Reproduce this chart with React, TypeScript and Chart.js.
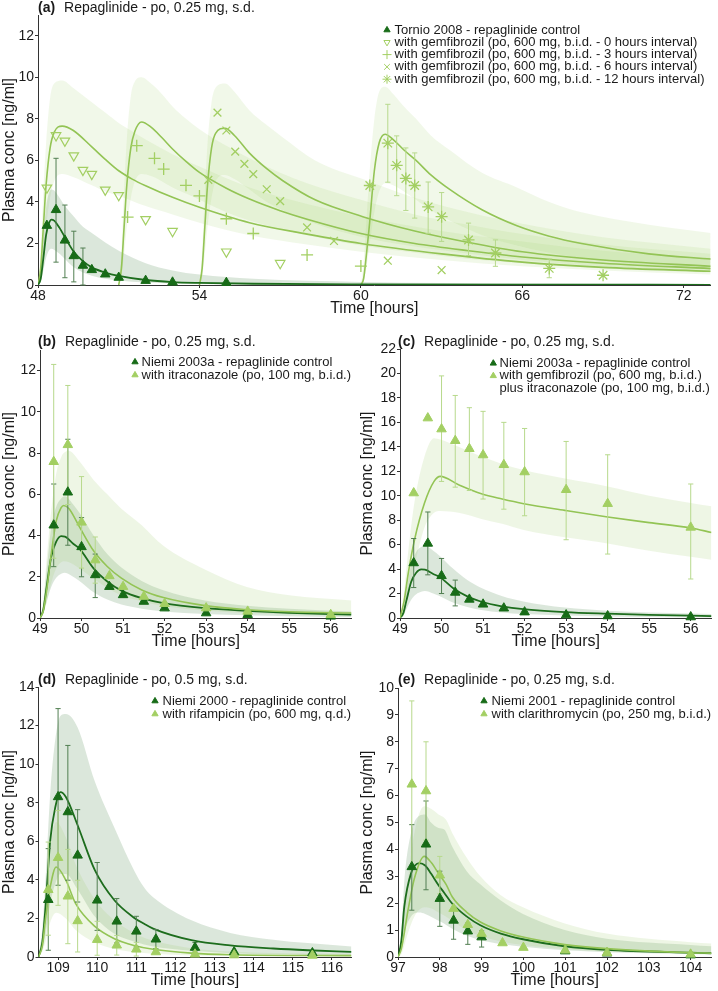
import React, { useEffect, useRef } from "react";
import { Chart, registerables } from "chart.js";
import { drawPoint } from "chart.js/helpers";

Chart.register(...registerables);

const FONT = "'Liberation Sans', Arial, sans-serif";
const INK = "#1a1a1a";
const AXIS = "#333333";
const DARK = "#176b17";
const DARK_LINE = "#1d6d1d";
const DARK_ERR = "#527f52";
const LIGHT = "#a3cf63";
const LIGHT_LINE = "#93c455";
const LIGHT_ERR = "#b7d98c";
const BAND_DARK = "rgba(110,160,110,0.25)";
const BAND_LIGHT = "rgba(160,205,110,0.18)";
const BAND_LIGHT_A = "rgba(160,205,110,0.15)";

type Sim = [number, number, number, number][]; // t, lower, median, upper
type Err = [number, number, number][]; // t, lower, upper

// ---------------- Panel (a) ----------------
const aTicksX = [48, 54, 60, 66, 72];
const aTicksY = [0, 2, 4, 6, 8, 10, 12];
const aCtrlT = [48.33, 48.67, 49, 49.33, 49.67, 50, 50.5, 51, 52, 53, 55];
const aCtrlV = [2.86, 3.62, 2.15, 1.4, 0.94, 0.73, 0.52, 0.36, 0.21, 0.13, 0.11];
const aCtrlErr: Err = [[48.67, 1.1, 6.1], [49, 0.35, 3.85], [49.33, 0.15, 2.59], [49.67, 0.0, 1.78]];
const a0hT = [48.33, 48.67, 49, 49.33, 49.67, 50, 50.5, 51, 52, 53, 55, 57];
const a0hV = [4.68, 7.2, 6.94, 6.23, 5.53, 5.34, 4.58, 4.32, 3.16, 2.59, 1.6, 1.05];
const a3hT = [51.33, 51.67, 52.33, 52.67, 53.5, 54, 55, 56, 58, 60];
const a3hV = [3.27, 6.71, 6.1, 5.58, 4.8, 4.29, 3.19, 2.48, 1.45, 0.91];
const a6hT = [54.33, 54.67, 55, 55.33, 55.67, 56, 56.5, 57, 58, 59, 61, 63];
const a6hV = [5.06, 8.3, 7.44, 6.42, 5.83, 5.34, 4.61, 4.04, 2.77, 2.12, 1.17, 0.72];
const a12hT = [60.33, 61, 61.33, 61.67, 62, 62.5, 63, 64, 65, 67, 69];
const a12hV = [4.79, 6.83, 5.76, 5.13, 4.79, 3.76, 3.29, 2.17, 1.54, 0.8, 0.47];
const a12hErr: Err = [[61, 4.95, 8.7], [61.33, 4.3, 7.18], [61.67, 3.59, 6.6], [62, 3.22, 6.36], [62.5, 2.49, 4.96], [63, 2.1, 4.45], [64, 1.42, 2.98], [65, 0.9, 2.17], [67, 0.35, 1.25]];
const aCtrlSim: Sim = [
  [48.0, 0, 0, 0], [48.1, 0.15, 0.3, 0.8], [48.2, 0.7, 1.3, 2.4], [48.3, 1.3, 2.4, 3.7],
  [48.4, 1.65, 2.95, 4.4], [48.5, 1.75, 3.15, 4.6], [48.6, 1.7, 3.1, 4.55], [48.8, 1.5, 2.75, 4.2],
  [49.0, 1.25, 2.3, 3.8], [49.33, 0.85, 1.6, 3.3], [49.67, 0.6, 1.15, 2.8], [50.0, 0.45, 0.85, 2.5],
  [50.5, 0.3, 0.6, 2.05], [51.0, 0.22, 0.44, 1.65], [52.0, 0.12, 0.24, 1.05], [53.0, 0.07, 0.14, 0.7],
  [54.0, 0.05, 0.1, 0.5], [56.0, 0.03, 0.06, 0.3], [60.0, 0.015, 0.03, 0.15], [66.0, 0.008, 0.015, 0.07],
  [73.0, 0.005, 0.01, 0.04],
];
const a0hSim: Sim = [
  [48.0, 0, 0, 0], [48.1, 0.4, 0.8, 1.6], [48.2, 1.5, 2.8, 4.5], [48.3, 2.8, 4.8, 6.8],
  [48.45, 4.2, 6.6, 9.0], [48.6, 5.0, 7.35, 9.7], [48.9, 5.35, 7.65, 9.85], [49.3, 5.2, 7.45, 9.5],
  [50.0, 4.8, 6.65, 8.8], [50.5, 4.5, 6.05, 8.3], [51.0, 4.3, 5.5, 7.8], [51.5, 4.05, 5.1, 7.4],
  [52.0, 3.8, 4.78, 7.0], [53.0, 3.4, 4.22, 6.3], [54.0, 3.0, 3.74, 5.7], [55.86, 2.4, 3.0, 4.7],
  [58.0, 1.95, 2.45, 3.9], [60.0, 1.6, 2.0, 3.3], [63.0, 1.2, 1.5, 2.6], [66.0, 0.9, 1.1, 2.1],
  [69.0, 0.7, 0.85, 1.65], [73.0, 0.5, 0.66, 1.3],
];
const a3hSim: Sim = [
  [51.0, 0, 0, 0], [51.1, 0.4, 0.8, 1.6], [51.2, 1.5, 2.8, 4.6], [51.3, 2.8, 4.8, 7.0],
  [51.45, 4.2, 6.6, 9.1], [51.6, 5.0, 7.4, 9.8], [51.85, 5.35, 7.85, 10.0], [52.2, 5.25, 7.6, 9.7],
  [52.6, 5.0, 7.1, 9.2], [53.0, 4.7, 6.55, 8.6], [53.5, 4.4, 5.95, 8.0], [54.0, 4.1, 5.42, 7.5],
  [55.0, 3.5, 4.66, 6.7], [55.86, 3.1, 4.14, 6.1], [57.0, 2.7, 3.58, 5.4], [58.0, 2.4, 3.17, 4.9],
  [60.0, 1.9, 2.48, 4.1], [62.0, 1.55, 2.0, 3.4], [64.0, 1.25, 1.65, 2.9], [66.0, 1.05, 1.35, 2.45],
  [69.0, 0.8, 1.05, 1.95], [73.0, 0.6, 0.79, 1.5],
];
const a6hSim: Sim = [
  [54.0, 0, 0, 0], [54.1, 0.4, 0.8, 1.6], [54.2, 1.5, 2.8, 4.5], [54.3, 2.8, 4.8, 6.8],
  [54.45, 4.2, 6.6, 8.8], [54.6, 5.0, 7.3, 9.5], [54.95, 5.3, 7.55, 9.7], [55.3, 5.1, 7.2, 9.3],
  [55.86, 4.6, 6.35, 8.4], [56.5, 4.0, 5.6, 7.7], [57.1, 3.6, 5.02, 7.1], [58.3, 2.95, 4.1, 6.0],
  [60.07, 2.3, 3.29, 5.1], [62.0, 1.85, 2.6, 4.2], [64.0, 1.5, 2.05, 3.5], [66.0, 1.2, 1.6, 2.95],
  [69.0, 0.9, 1.2, 2.3], [73.0, 0.65, 0.9, 1.75],
];
const a12hSim: Sim = [
  [60.0, 0, 0, 0], [60.1, 0.2, 0.3, 1.0], [60.2, 0.8, 1.4, 3.0], [60.31, 1.8, 2.8, 5.2],
  [60.5, 3.5, 5.5, 8.0], [60.68, 4.5, 6.85, 9.3], [60.9, 4.9, 7.26, 9.55], [61.2, 4.8, 7.0, 9.2],
  [61.6, 4.5, 6.5, 8.6], [62.05, 4.1, 6.0, 8.0], [62.6, 3.6, 5.3, 7.2], [63.3, 3.1, 4.6, 6.5],
  [64.5, 2.4, 3.62, 5.4], [65.8, 1.9, 2.85, 4.7], [67.0, 1.55, 2.35, 4.0], [68.2, 1.3, 2.0, 3.5],
  [70.7, 0.95, 1.5, 2.9], [73.0, 0.8, 1.25, 2.5],
];

// ---------------- Panel (b) & (c) ----------------
const bcTicksX = [49, 50, 51, 52, 53, 54, 55, 56];
const bTicksY = [0, 2, 4, 6, 8, 10, 12];
const cTicksY = [0, 2, 4, 6, 8, 10, 12, 14, 16, 18, 20, 22];
const bCtrlT = [49.33, 49.67, 50, 50.33, 50.67, 51, 51.5, 52, 53, 54, 56];
const bCtrlV = [4.5, 6.1, 3.45, 2.09, 1.52, 1.12, 0.8, 0.48, 0.24, 0.16, 0.08];
const bCtrlErr: Err = [[49.33, 2.49, 6.5], [49.67, 3.53, 8.67], [50, 2.0, 4.87], [50.33, 0.99, 3.1]];
const bItraT = [49.33, 49.67, 50, 50.33, 50.67, 51, 51.5, 52, 53, 54, 56];
const bItraV = [7.58, 8.4, 4.64, 2.81, 2.04, 1.52, 1.04, 0.69, 0.48, 0.32, 0.16];
const bItraErr: Err = [[49.33, 2.9, 12.3], [49.67, 5.5, 11.28], [50, 2.42, 6.86], [50.33, 1.69, 3.93]];
const bCtrlSim: Sim = [
  [49.0, 0, 0, 0], [49.08, 0.2, 0.4, 0.7], [49.15, 0.7, 1.36, 2.1], [49.27, 1.5, 2.97, 4.4],
  [49.39, 1.95, 3.7, 5.4], [49.51, 2.15, 3.97, 5.8], [49.6, 2.2, 3.95, 5.9], [49.8, 2.0, 3.6, 5.5],
  [49.95, 1.8, 3.37, 5.1], [50.29, 1.25, 2.41, 4.0], [50.62, 0.9, 1.77, 3.1], [50.96, 0.65, 1.33, 2.45],
  [51.45, 0.45, 0.96, 1.8], [51.97, 0.32, 0.72, 1.35], [52.97, 0.2, 0.48, 0.85], [53.98, 0.13, 0.35, 0.6],
  [55.0, 0.09, 0.25, 0.45], [56.5, 0.05, 0.16, 0.32],
];
const bItraSim: Sim = [
  [49.0, 0, 0, 0], [49.08, 0.25, 0.35, 0.8], [49.15, 0.7, 1.2, 2.6], [49.27, 1.7, 3.1, 5.2],
  [49.39, 2.4, 4.7, 7.0], [49.51, 2.7, 5.35, 7.8], [49.57, 2.75, 5.46, 8.0], [49.7, 2.7, 5.3, 8.1],
  [49.95, 2.4, 4.42, 7.6], [50.29, 1.9, 3.26, 6.7], [50.62, 1.45, 2.5, 6.0], [50.96, 1.1, 1.93, 5.3],
  [51.45, 0.8, 1.36, 4.5], [51.97, 0.58, 0.99, 3.5], [52.97, 0.36, 0.6, 2.35], [53.98, 0.24, 0.4, 1.5],
  [55.0, 0.17, 0.3, 1.1], [56.5, 0.12, 0.24, 0.85],
];
const cCombT = [49.33, 49.67, 50, 50.33, 50.67, 51, 51.5, 52, 53, 54, 56];
const cCombV = [10.22, 16.35, 15.45, 14.5, 13.84, 13.33, 12.53, 11.94, 10.49, 9.35, 7.41];
const cCombErr: Err = [[50, 11.17, 19.8], [50.33, 10.7, 18.2], [50.67, 10.43, 17.2], [51, 9.73, 16.9], [51.5, 8.9, 16.0], [52, 8.36, 15.5], [53, 6.4, 14.44], [54, 5.23, 13.35], [56, 3.19, 10.96]];
const cCombSim: Sim = [
  [49.0, 0, 0, 0], [49.1, 0.6, 1.4, 2.2], [49.2, 2.0, 3.68, 5.5], [49.35, 4.3, 6.4, 9.5],
  [49.59, 7.4, 9.4, 13.2], [49.82, 8.6, 11.17, 14.7], [49.97, 8.75, 11.58, 14.6], [50.41, 8.6, 10.9, 14.0],
  [50.96, 8.1, 10.16, 13.2], [51.46, 7.7, 9.73, 12.6], [51.98, 7.2, 9.35, 12.1], [52.97, 6.6, 8.8, 11.4],
  [54.0, 6.1, 8.26, 10.76], [55.0, 5.5, 7.8, 10.0], [56.0, 5.0, 7.36, 9.4], [56.5, 4.77, 7.0, 9.13],
];

// ---------------- Panel (d) ----------------
const dTicksX = [109, 110, 111, 112, 113, 114, 115, 116];
const dTicksY = [0, 2, 4, 6, 8, 10, 12, 14];
const dCtrlT = [108.75, 109, 109.25, 109.5, 110, 110.5, 111, 111.5, 112.5, 113.5, 115.5];
const dCtrlV = [2.97, 8.3, 7.52, 5.27, 2.94, 1.85, 1.33, 0.92, 0.49, 0.26, 0.21];
const dCtrlErr: Err = [[108.75, 0.35, 5.62], [109, 3.72, 12.88], [109.25, 3.98, 10.97], [109.5, 2.85, 7.64], [110, 1.38, 4.9], [110.5, 0.73, 3.03], [111, 0.52, 2.11], [111.5, 0.43, 1.42], [112.5, 0.26, 0.75]];
const dRifT = [108.75, 109, 109.25, 109.5, 110, 110.5, 111, 111.5, 112.5, 113.5, 115.5];
const dRifV = [3.49, 5.15, 3.15, 1.87, 0.9, 0.61, 0.4, 0.26, 0.14, 0.1, 0.08];
const dRifErr: Err = [[108.75, 1.13, 5.96], [109, 2.68, 7.6], [109.25, 0.69, 5.58], [109.5, 0.26, 3.98], [110, 0.09, 1.85], [110.5, 0.1, 1.12], [111, 0.05, 0.76]];
const dCtrlSim: Sim = [
  [108.5, 0, 0, 0], [108.6, 0.4, 0.8, 1.5], [108.68, 1.2, 2.6, 4.0], [108.8, 2.8, 6.05, 8.5],
  [108.93, 3.8, 7.78, 11.3], [109.06, 4.3, 8.55, 12.5], [109.2, 4.3, 8.3, 12.6], [109.5, 3.5, 6.83, 11.9],
  [109.94, 2.1, 4.5, 9.1], [110.44, 1.2, 2.94, 6.7], [110.94, 0.8, 2.04, 4.5], [111.2, 0.65, 1.72, 3.6],
  [111.43, 0.55, 1.47, 3.1], [112.41, 0.32, 0.87, 1.9], [113.4, 0.2, 0.6, 1.25], [114.5, 0.14, 0.44, 0.9],
  [115.38, 0.11, 0.35, 0.72], [116.5, 0.08, 0.27, 0.55],
];
const dRifSim: Sim = [
  [108.5, 0, 0, 0], [108.6, 0.3, 0.6, 1.0], [108.68, 0.8, 2.0, 3.3], [108.8, 1.8, 3.63, 5.6],
  [108.95, 2.3, 4.67, 7.0], [109.2, 2.0, 3.98, 6.2], [109.45, 1.4, 2.77, 4.8], [109.94, 0.75, 1.59, 3.0],
  [110.44, 0.42, 0.95, 1.9], [110.94, 0.26, 0.6, 1.25], [111.43, 0.17, 0.4, 0.85], [112.41, 0.08, 0.2, 0.45],
  [113.4, 0.05, 0.12, 0.28], [116.5, 0.02, 0.07, 0.15],
];

// ---------------- Panel (e) ----------------
const eTicksX = [97, 98, 99, 100, 101, 102, 103, 104];
const eTicksY = [0, 1, 2, 3, 4, 5, 6, 7, 8, 9, 10];
const eCtrlT = [97.33, 97.67, 98, 98.33, 98.67, 99, 101, 102, 104];
const eCtrlV = [3.35, 4.19, 2.17, 1.36, 0.96, 0.74, 0.22, 0.14, 0.07];
const eCtrlErr: Err = [[97.33, 1.74, 4.92], [97.67, 2.5, 5.8], [98, 1.14, 3.19], [98.33, 0.66, 1.8], [98.67, 0.47, 1.26], [99, 0.37, 0.97]];
const eClarT = [97.33, 97.67, 98, 98.33, 98.67, 99, 99.5, 100, 101, 102, 104];
const eClarV = [6.42, 6.17, 3.04, 1.8, 1.2, 0.87, 0.52, 0.35, 0.25, 0.16, 0.1];
const eClarErr: Err = [[97.33, 3.3, 9.52], [97.67, 4.35, 8.0], [98, 2.35, 3.74]];
const eCtrlSim: Sim = [
  [97.0, 0, 0, 0], [97.08, 0.3, 0.6, 0.9], [97.15, 0.9, 1.86, 2.8], [97.31, 1.5, 3.1, 4.6],
  [97.51, 1.65, 3.49, 5.25], [97.65, 1.6, 3.4, 5.3], [97.79, 1.5, 3.1, 5.0], [97.97, 1.35, 2.67, 4.8],
  [98.1, 1.25, 2.4, 4.75], [98.3, 1.05, 1.98, 4.1], [98.64, 0.8, 1.51, 3.2], [98.97, 0.63, 1.18, 2.7],
  [99.46, 0.48, 0.87, 2.1], [99.99, 0.38, 0.66, 1.6], [100.99, 0.25, 0.4, 1.0], [101.99, 0.18, 0.27, 0.68],
  [104.0, 0.11, 0.16, 0.45], [104.5, 0.1, 0.14, 0.4],
];
const eClarSim: Sim = [
  [97.0, 0, 0, 0], [97.08, 0.1, 0.3, 0.6], [97.24, 0.9, 1.74, 2.9], [97.39, 1.5, 2.91, 4.6],
  [97.63, 1.85, 3.74, 5.6], [97.8, 1.8, 3.5, 5.5], [97.97, 1.65, 3.1, 5.3], [98.15, 1.5, 2.7, 5.1],
  [98.3, 1.35, 2.23, 4.6], [98.64, 1.0, 1.67, 3.7], [98.97, 0.78, 1.3, 3.0], [99.46, 0.58, 0.97, 2.3],
  [99.99, 0.45, 0.74, 1.85], [100.99, 0.3, 0.46, 1.25], [101.99, 0.2, 0.31, 0.87], [104.0, 0.12, 0.16, 0.55],
  [104.5, 0.1, 0.14, 0.5],
];

// ---------------- Text ----------------
const titleQuarter = "Repaglinide - po, 0.25 mg, s.d.";
const titleHalf = "Repaglinide - po, 0.5 mg, s.d.";
const xTitle = "Time [hours]";
const yTitle = "Plasma conc [ng/ml]";
const gem = "with gemfibrozil (po, 600 mg, b.i.d. - ";
const aLegend = [
  "Tornio 2008 - repaglinide control",
  gem + "0 hours interval)",
  gem + "3 hours interval)",
  gem + "6 hours interval)",
  gem + "12 hours interval)",
];
const bLegend = ["Niemi 2003a - repaglinide control", "with itraconazole (po, 100 mg, b.i.d.)"];
const cLegend = ["Niemi 2003a - repaglinide control", "with gemfibrozil (po, 600 mg, b.i.d.)", "plus itraconazole (po, 100 mg, b.i.d.)"];
const dLegend = ["Niemi 2000 - repaglinide control", "with rifampicin (po, 600 mg, q.d.)"];
const eLegend = ["Niemi 2001 - repaglinide control", "with clarithromycin (po, 250 mg, b.i.d.)"];

// ---------------- dataset builders ----------------
function simSets(sim: Sim, lineColor: string, bandColor: string, lw = 1.6): any[] {
  return [
    {
      data: sim.map((r) => ({ x: r[0], y: r[3] })),
      borderColor: "rgba(0,0,0,0)", borderWidth: 0, pointRadius: 0,
      fill: "+1", backgroundColor: bandColor, order: 4, cubicInterpolationMode: "monotone",
    },
    {
      data: sim.map((r) => ({ x: r[0], y: r[1] })),
      borderColor: "rgba(0,0,0,0)", borderWidth: 0, pointRadius: 0,
      fill: false, order: 4, cubicInterpolationMode: "monotone",
    },
    {
      data: sim.map((r) => ({ x: r[0], y: r[2] })),
      borderColor: lineColor, borderWidth: lw, pointRadius: 0,
      fill: false, order: 3, cubicInterpolationMode: "monotone",
    },
  ];
}

function errSet(err: Err, color: string): any {
  const data: any[] = [];
  err.forEach(([t, lo, hi]) => {
    data.push({ x: t, y: lo }, { x: t, y: hi }, { x: t, y: null });
  });
  return {
    data, borderColor: color, borderWidth: 1, pointStyle: "line", pointRadius: 2.6,
    pointBorderColor: color, pointBorderWidth: 1, pointBackgroundColor: color,
    fill: false, spanGaps: false, order: 2, clip: false, tension: 0,
  };
}

function obsSet(t: number[], v: number[], color: string, style: string, o: any = {}): any {
  return {
    data: t.map((x, i) => ({ x, y: v[i] })),
    showLine: false,
    pointStyle: style,
    pointRotation: o.rot || 0,
    pointRadius: o.r || 5,
    pointBorderWidth: o.bw || 1,
    pointBorderColor: color,
    pointBackgroundColor: o.open ? "rgba(0,0,0,0)" : color,
    borderColor: color,
    backgroundColor: color,
    order: o.order ?? 1,
    clip: false,
  };
}

// ---------------- decoration plugin (panel title + inset legend) ----------------
const decorPlugin: any = {
  id: "decor",
  afterDraw(chart: any, _args: any, opts: any) {
    const ctx = chart.ctx;
    const ox = opts.ox, oy = opts.oy;
    ctx.save();
    ctx.textBaseline = "middle";
    ctx.textAlign = "left";
    ctx.fillStyle = INK;
    ctx.font = `bold 14px ${FONT}`;
    ctx.fillText(opts.tag, opts.tx - ox, opts.ty - oy);
    const w = ctx.measureText(opts.tag).width;
    ctx.font = `14px ${FONT}`;
    ctx.fillText(opts.title, opts.tx - ox + w + 9, opts.ty - oy);
    const lg = opts.legend;
    lg.items.forEach((it: any, i: number) => {
      const y = lg.y + i * lg.rowH - oy;
      if (it.style) {
        ctx.strokeStyle = it.color;
        ctx.fillStyle = it.open ? "rgba(0,0,0,0)" : it.color;
        ctx.lineWidth = 1;
        drawPoint(ctx, { pointStyle: it.style, rotation: it.rot || 0, radius: it.r || 3.6, borderWidth: 1 }, lg.mx - ox, y);
      }
      ctx.fillStyle = INK;
      ctx.font = `13px ${FONT}`;
      ctx.fillText(it.label, lg.tx - ox, y);
    });
    ctx.restore();
  },
};

// ---------------- panels ----------------
const panels: any[] = [
  {
    key: "a",
    canvas: { left: 0, top: 0, w: 718, h: 319 },
    area: { l: 38, t: 15, r: 715, b: 285 },
    x: [48, 73], y: [0, 13], xTicks: aTicksX, yTicks: aTicksY,
    tag: "(a)", title: titleQuarter, tx: 38, ty: 8,
    legend: {
      mx: 387, tx: 394.5, y: 30, rowH: 12.3,
      items: [
        { label: aLegend[0], style: "triangle", color: DARK },
        { label: aLegend[1], style: "triangle", rot: 180, open: true, color: LIGHT },
        { label: aLegend[2], style: "cross", color: LIGHT, r: 4.5 },
        { label: aLegend[3], style: "crossRot", color: LIGHT, r: 4 },
        { label: aLegend[4], style: "star", color: LIGHT, r: 4.5 },
      ],
    },
    datasets: [
      obsSet(aCtrlT, aCtrlV, DARK, "triangle", { r: 5.5, order: 0 }),
      obsSet(a0hT, a0hV, LIGHT, "triangle", { r: 5.5, rot: 180, open: true, bw: 1.2, order: 1 }),
      obsSet(a3hT, a3hV, LIGHT, "cross", { r: 6, bw: 1.3, order: 1 }),
      obsSet(a6hT, a6hV, LIGHT, "crossRot", { r: 5.5, bw: 1.3, order: 1 }),
      obsSet(a12hT, a12hV, LIGHT, "star", { r: 6, bw: 1.3, order: 1 }),
      errSet(aCtrlErr, DARK_ERR),
      errSet(a12hErr, LIGHT_ERR),
      ...simSets(aCtrlSim, DARK_LINE, BAND_DARK, 1.8),
      ...simSets(a0hSim, LIGHT_LINE, BAND_LIGHT_A),
      ...simSets(a3hSim, LIGHT_LINE, BAND_LIGHT_A),
      ...simSets(a6hSim, LIGHT_LINE, BAND_LIGHT_A),
      ...simSets(a12hSim, LIGHT_LINE, BAND_LIGHT_A),
    ],
  },
  {
    key: "b",
    canvas: { left: 0, top: 320, w: 358, h: 332 },
    area: { l: 40, t: 350, r: 355, b: 618 },
    x: [49, 56.5], y: [0, 13], xTicks: bcTicksX, yTicks: bTicksY,
    tag: "(b)", title: titleQuarter, tx: 38, ty: 342,
    legend: {
      mx: 135, tx: 141.5, y: 362, rowH: 13,
      items: [
        { label: bLegend[0], style: "triangle", color: DARK },
        { label: bLegend[1], style: "triangle", color: LIGHT },
      ],
    },
    datasets: [
      obsSet(bItraT, bItraV, LIGHT, "triangle", { r: 5.5, order: 0 }),
      obsSet(bCtrlT, bCtrlV, DARK, "triangle", { r: 5.5, order: 1 }),
      errSet(bItraErr, LIGHT_ERR),
      errSet(bCtrlErr, DARK_ERR),
      ...simSets(bItraSim, LIGHT_LINE, BAND_LIGHT),
      ...simSets(bCtrlSim, DARK_LINE, BAND_DARK, 1.8),
    ],
  },
  {
    key: "c",
    canvas: { left: 358, top: 320, w: 360, h: 332 },
    area: { l: 400, t: 349, r: 716, b: 618 },
    x: [49, 56.5], y: [0, 22], xTicks: bcTicksX, yTicks: cTicksY,
    tag: "(c)", title: titleQuarter, tx: 398, ty: 342,
    legend: {
      mx: 493.3, tx: 499.5, y: 363.3, rowH: 12.5,
      items: [
        { label: cLegend[0], style: "triangle", color: DARK },
        { label: cLegend[1], style: "triangle", color: LIGHT },
        { label: cLegend[2] },
      ],
    },
    datasets: [
      obsSet(cCombT, cCombV, LIGHT, "triangle", { r: 5.5, order: 0 }),
      obsSet(bCtrlT, bCtrlV, DARK, "triangle", { r: 5.5, order: 1 }),
      errSet(cCombErr, LIGHT_ERR),
      errSet(bCtrlErr, DARK_ERR),
      ...simSets(cCombSim, LIGHT_LINE, BAND_LIGHT),
      ...simSets(bCtrlSim, DARK_LINE, BAND_DARK, 1.8),
    ],
  },
  {
    key: "d",
    canvas: { left: 0, top: 653, w: 358, h: 338 },
    area: { l: 38.5, t: 687, r: 355, b: 957 },
    x: [108.5, 116.5], y: [0, 14], xTicks: dTicksX, yTicks: dTicksY,
    tag: "(d)", title: titleHalf, tx: 38, ty: 680,
    legend: {
      mx: 155, tx: 162.5, y: 701, rowH: 13,
      items: [
        { label: dLegend[0], style: "triangle", color: DARK },
        { label: dLegend[1], style: "triangle", color: LIGHT },
      ],
    },
    datasets: [
      obsSet(dRifT, dRifV, LIGHT, "triangle", { r: 5.5, order: 0 }),
      obsSet(dCtrlT, dCtrlV, DARK, "triangle", { r: 5.5, order: 1 }),
      errSet(dRifErr, LIGHT_ERR),
      errSet(dCtrlErr, DARK_ERR),
      ...simSets(dRifSim, LIGHT_LINE, BAND_LIGHT),
      ...simSets(dCtrlSim, DARK_LINE, BAND_DARK, 1.8),
    ],
  },
  {
    key: "e",
    canvas: { left: 358, top: 653, w: 360, h: 338 },
    area: { l: 398, t: 688, r: 714.7, b: 957 },
    x: [97, 104.5], y: [0, 10], xTicks: eTicksX, yTicks: eTicksY,
    tag: "(e)", title: titleQuarter, tx: 398, ty: 680,
    legend: {
      mx: 484, tx: 491.5, y: 701, rowH: 13,
      items: [
        { label: eLegend[0], style: "triangle", color: DARK },
        { label: eLegend[1], style: "triangle", color: LIGHT },
      ],
    },
    datasets: [
      obsSet(eClarT, eClarV, LIGHT, "triangle", { r: 5.5, order: 0 }),
      obsSet(eCtrlT, eCtrlV, DARK, "triangle", { r: 5.5, order: 1 }),
      errSet(eClarErr, LIGHT_ERR),
      errSet(eCtrlErr, DARK_ERR),
      ...simSets(eClarSim, LIGHT_LINE, BAND_LIGHT),
      ...simSets(eCtrlSim, DARK_LINE, BAND_DARK, 1.8),
    ],
  },
];

function Panel({ cfg }: { cfg: any }) {
  const ref = useRef<HTMLCanvasElement | null>(null);
  useEffect(() => {
    if (!ref.current) return;
    const cv = cfg.canvas;
    const ar = cfg.area;
    const yW = ar.l - cv.left;
    const xH = cv.top + cv.h - ar.b;
    const tickFont = { family: FONT, size: 14 };
    const chart = new Chart(ref.current, {
      type: "line",
      data: { datasets: cfg.datasets },
      options: {
        responsive: false,
        animation: false,
        events: [],
        layout: { padding: { left: 0, top: ar.t - cv.top, right: cv.left + cv.w - ar.r, bottom: 0 } },
        plugins: {
          legend: { display: false },
          tooltip: { enabled: false },
          decor: {
            ox: cv.left, oy: cv.top, tag: cfg.tag, title: cfg.title, tx: cfg.tx, ty: cfg.ty, legend: cfg.legend,
          },
        } as any,
        scales: {
          x: {
            type: "linear",
            min: cfg.x[0],
            max: cfg.x[1],
            afterBuildTicks: (s: any) => { s.ticks = cfg.xTicks.map((v: number) => ({ value: v })); },
            afterFit: (s: any) => { s.height = xH; },
            ticks: { font: tickFont, color: INK, autoSkip: false, maxRotation: 0, padding: 0 },
            grid: { display: true, drawOnChartArea: false, drawTicks: true, tickLength: 3, color: AXIS },
            border: { display: true, color: AXIS, width: 1 },
            title: { display: true, text: xTitle, color: INK, font: { family: FONT, size: 16 }, padding: { top: 0, bottom: 1 } },
          },
          y: {
            type: "linear",
            min: cfg.y[0],
            max: cfg.y[1],
            afterBuildTicks: (s: any) => { s.ticks = cfg.yTicks.map((v: number) => ({ value: v })); },
            afterFit: (s: any) => { s.width = yW; },
            ticks: { font: tickFont, color: INK, autoSkip: false, padding: 1 },
            grid: { display: true, drawOnChartArea: false, drawTicks: true, tickLength: 3, color: AXIS },
            border: { display: true, color: AXIS, width: 1 },
            title: { display: true, text: yTitle, color: INK, font: { family: FONT, size: 16 }, padding: { top: 0, bottom: 0 } },
          },
        },
      } as any,
      plugins: [decorPlugin],
    });
    return () => chart.destroy();
  }, [cfg]);
  const cv = cfg.canvas;
  return (
    <canvas
      ref={ref}
      width={cv.w}
      height={cv.h}
      style={{ position: "absolute", left: cv.left, top: cv.top, width: cv.w, height: cv.h }}
    />
  );
}

export default function App() {
  return (
    <div style={{ position: "absolute", left: 0, top: 0, width: 718, height: 991, background: "#ffffff", overflow: "hidden" }}>
      {panels.map((p) => (
        <Panel key={p.key} cfg={p} />
      ))}
    </div>
  );
}
